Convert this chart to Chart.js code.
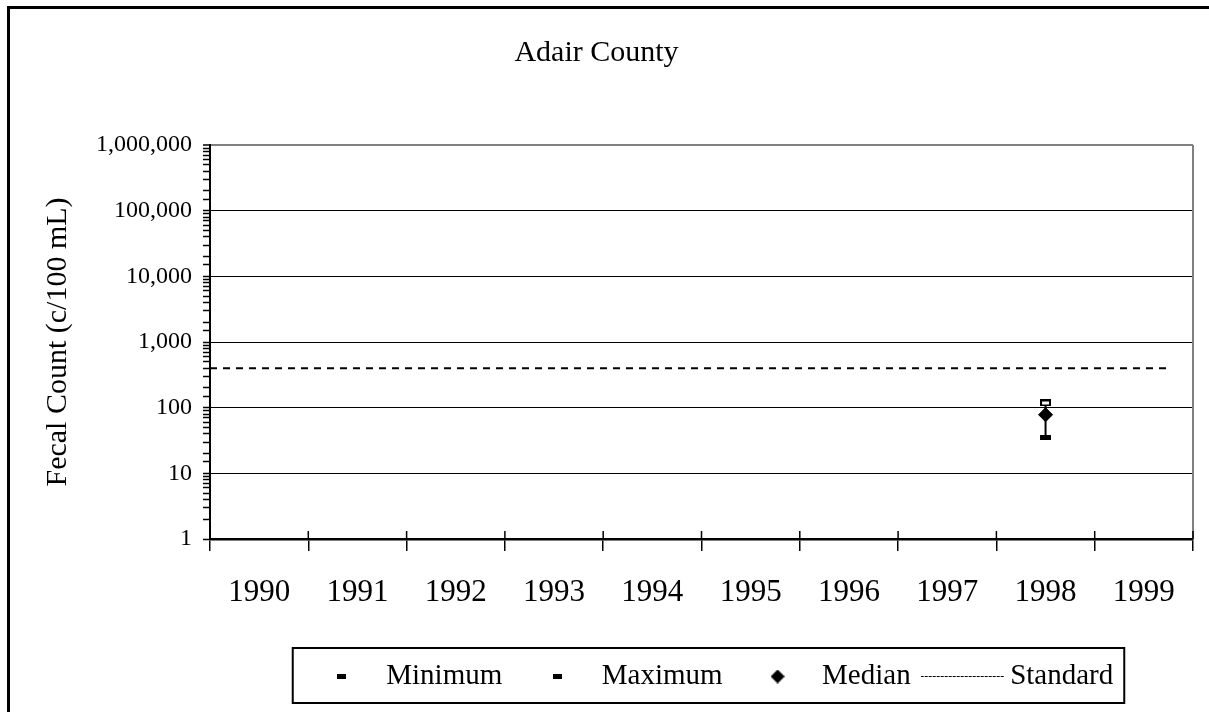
<!DOCTYPE html>
<html>
<head>
<meta charset="utf-8">
<script src="https://cdn.jsdelivr.net/npm/chart.js@4"></script>
<style>
  html, body { margin: 0; padding: 0; background: #fff; overflow: hidden; }
  #wrap { position: relative; width: 1209px; height: 712px; }
  #frame { position: absolute; left: 7px; top: 6px; width: 1220px; height: 720px;
           border-left: 3px solid #000; border-top: 3px solid #000; pointer-events: none; }
</style>
</head>
<body>
<div id="wrap">
  <canvas id="myChart"></canvas>
  <div id="frame"></div>
</div>
<script>
"use strict";
const serif = "'Liberation Serif', 'Times New Roman', serif";

// data
const years = ["1990", "1991", "1992", "1993", "1994", "1995", "1996", "1997", "1998", "1999"];
const minimum = [null, null, null, null, null, null, null, null, 35, null];
const maximum = [null, null, null, null, null, null, null, null, 118, null];
const median = [null, null, null, null, null, null, null, null, 78, null];
const standardValue = 400;
const standardSpan = [0, 9.75]; // along the hidden linear x axis (category units)

// small marker images
function mark(w, h, draw) {
  const c = document.createElement("canvas");
  c.width = w;
  c.height = h;
  draw(c.getContext("2d"), w, h);
  return c;
}
const minMark = mark(11, 5, (g, w, h) => { g.fillStyle = "#000"; g.fillRect(0, 0, w, h); });
const maxMark = mark(11, 7, (g, w, h) => {
  g.fillStyle = "#fff"; g.fillRect(0, 0, w, h);
  g.strokeStyle = "#000"; g.lineWidth = 2; g.strokeRect(1, 1, w - 2, h - 2);
});
const legendDash = mark(9, 5, (g, w, h) => { g.fillStyle = "#000"; g.fillRect(0, 0, w, h); });
const legendDiamond = mark(14, 14, (g) => {
  g.fillStyle = "#000";
  g.beginPath(); g.moveTo(7, 0); g.lineTo(14, 7); g.lineTo(7, 14); g.lineTo(0, 7); g.closePath(); g.fill();
});
// wider than the box so the line reaches back towards "Median"
const legendLine = mark(90, 3, (g) => {
  g.strokeStyle = "#000"; g.lineWidth = 1.2; g.setLineDash([3, 1]);
  g.beginPath(); g.moveTo(0, 1.5); g.lineTo(84, 1.5); g.stroke();
});
const legendIcons = [legendDash, legendDash, legendDiamond, legendLine];
const legendShift = 11;

const isDecade = (v) => Math.abs(Math.log10(v) - Math.round(Math.log10(v))) < 1e-9;

// min-max whisker, plot frame, legend box
const extras = {
  id: "extras",
  afterLayout(chart) {
    // the legend sits a bit right of the plot centre
    const lg = chart.legend;
    lg.left += legendShift;
    lg.right += legendShift;
  },
  beforeDatasetsDraw(chart) {
    const { ctx, chartArea } = chart;
    const xs = chart.scales.x, ys = chart.scales.y;
    ctx.save();
    ctx.strokeStyle = "#808080";
    ctx.lineWidth = 2;
    ctx.beginPath();
    ctx.moveTo(chartArea.right, chartArea.top);
    ctx.lineTo(chartArea.right, chartArea.bottom);
    ctx.stroke();
    // x tick marks cross the axis a little
    ctx.strokeStyle = "#000";
    ctx.lineWidth = 1.5;
    for (let i = 0; i <= years.length; i++) {
      const x = xs.getPixelForValue(i - 0.5);
      ctx.beginPath();
      ctx.moveTo(x, chartArea.bottom - 8);
      ctx.lineTo(x, chartArea.bottom);
      ctx.stroke();
    }
    ctx.lineWidth = 2;
    years.forEach((y, i) => {
      if (minimum[i] == null || maximum[i] == null) return;
      const x = xs.getPixelForValue(i);
      ctx.beginPath();
      ctx.moveTo(x, ys.getPixelForValue(minimum[i]));
      ctx.lineTo(x, ys.getPixelForValue(maximum[i]));
      ctx.stroke();
    });
    ctx.restore();
  },
  afterDraw(chart) {
    const lg = chart.legend;
    const hb = lg.legendHitBoxes;
    if (!hb || !hb.length) return;
    const first = hb[0], last = hb[hb.length - 1];
    const left = first.left - 19;
    const right = last.left + last.width + 11;
    const top = first.top - 14;
    const bottom = first.top + first.height + 12;
    const ctx = chart.ctx;
    ctx.save();
    ctx.strokeStyle = "#000";
    ctx.lineWidth = 2;
    ctx.strokeRect(left, top, right - left, bottom - top);
    ctx.restore();
  },
};

const ctx = document.getElementById("myChart").getContext("2d");
const myChart = new Chart(ctx, {
  type: "line",
  data: {
    labels: years,
    datasets: [
      {
        label: "Minimum",
        data: minimum,
        showLine: false,
        pointStyle: minMark,
        pointRadius: 6,
      },
      {
        label: "Maximum",
        data: maximum,
        showLine: false,
        pointStyle: maxMark,
        pointRadius: 6,
      },
      {
        label: "Median",
        data: median,
        showLine: false,
        pointStyle: "rectRot",
        pointRadius: 7,
        pointBackgroundColor: "#000",
        pointBorderColor: "#000",
      },
      {
        label: "Standard",
        data: standardSpan.map((x) => ({ x: x, y: standardValue })),
        xAxisID: "xs",
        borderColor: "#000",
        borderWidth: 2,
        borderDash: [7, 6],
        pointRadius: 0,
        fill: false,
      },
    ],
  },
  options: {
    responsive: true,
    maintainAspectRatio: false,
    animation: false,
    layout: { padding: { left: 0, right: 16, top: 0, bottom: 11 } },
    plugins: {
      title: {
        display: true,
        text: "Adair County",
        color: "#000",
        font: { family: serif, size: 30, weight: "normal" },
        padding: { top: 35, bottom: 74 },
      },
      legend: {
        position: "bottom",
        fullSize: false,
        labels: {
          color: "#000",
          font: { family: serif, size: 29 },
          usePointStyle: true,
          pointStyleWidth: 60,
          boxHeight: 9,
          padding: 25,
          generateLabels(chart) {
            return chart.data.datasets.map((ds, i) => ({
              text: ds.label,
              datasetIndex: i,
              pointStyle: legendIcons[i],
              fillStyle: "#000",
              strokeStyle: "#000",
              lineWidth: 0,
              fontColor: "#000",
              hidden: false,
            }));
          },
        },
      },
      tooltip: { enabled: false },
    },
    scales: {
      x: {
        type: "category",
        offset: true,
        grid: {
          offset: true,
          drawOnChartArea: false,
          color: "#000",
          tickLength: 12,
          lineWidth: 1.5,
        },
        border: { color: "#000", width: 2.5 },
        ticks: {
          color: "#000",
          font: { family: serif, size: 31 },
          padding: 23,
          maxRotation: 0,
        },
        afterFit(scale) {
          scale.height = 98;
        },
      },
      xs: {
        type: "linear",
        display: false,
        min: 0,
        max: 10,
      },
      y: {
        type: "logarithmic",
        min: 1,
        max: 1000000,
        border: { color: "#000", width: 2 },
        grid: {
          color: (c) => (c.tick && c.tick.value === 1000000 ? "#808080" : c.tick && isDecade(c.tick.value) ? "#000" : "rgba(0,0,0,0)"),
          lineWidth: (c) => (c.tick && c.tick.value === 1000000 ? 2 : 1),
          tickColor: "#000",
          tickLength: 7,
          tickWidth: 1.5,
        },
        ticks: {
          autoSkip: false,
          color: "#000",
          font: { family: serif, size: 24 },
          padding: 11,
          callback: (v) => (isDecade(v) ? Number(v).toLocaleString("en-US") : ""),
        },
        title: {
          display: true,
          text: "Fecal Count (c/100 mL)",
          color: "#000",
          font: { family: serif, size: 30 },
          padding: { top: 40, bottom: 0 },
        },
        afterFit(scale) {
          scale.width = 210;
        },
      },
    },
  },
  plugins: [extras],
});
</script>
</body>
</html>
